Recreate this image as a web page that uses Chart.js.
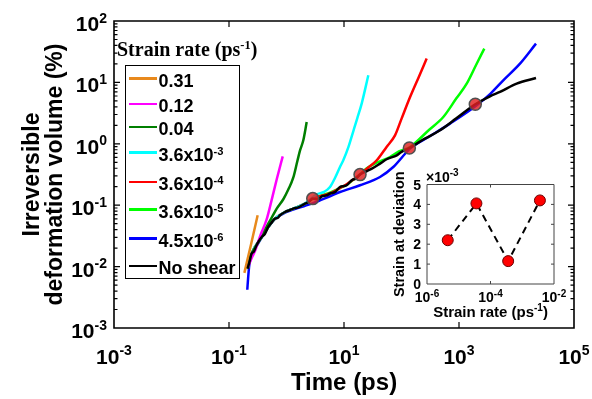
<!DOCTYPE html>
<html><head><meta charset="utf-8">
<script src="https://cdn.jsdelivr.net/npm/chart.js@4.4.1/dist/chart.umd.min.js"></script>
<style>
html,body{margin:0;padding:0;background:#fff;}
#wrap{position:relative;width:592px;height:399px;overflow:hidden;background:#fff;}
#main{position:absolute;left:0;top:0;}
#inset{position:absolute;left:385px;top:166px;}
#legTitle{position:absolute;left:117px;top:39px;font:bold 20px 'Liberation Serif','Times New Roman',serif;line-height:20px;white-space:nowrap;color:#000;}
#legBox{position:absolute;left:125px;top:65px;width:113px;height:212px;border:1.5px solid #000;background:#fff;}
.item{position:absolute;left:0;height:24px;display:flex;align-items:center;}
.swatch{width:28px;height:2.5px;margin-left:3px;margin-right:1.5px;}
.lbl{font:bold 18px 'Liberation Sans',Arial,sans-serif;line-height:18px;position:relative;top:2px;white-space:nowrap;color:#000;}
sup{font-size:0.62em;line-height:0;vertical-align:0.55em;}
</style></head>
<body>
<div id="wrap">
  <canvas id="main" width="592" height="399"></canvas>
  <canvas id="inset" width="185" height="164"></canvas>
  <div id="legTitle">Strain rate (ps<sup>-1</sup>)</div>
  <div id="legBox"></div>
</div>
<script>
// ---------------- data ----------------
const rateLabels = ['0.31', '0.12', '0.04', '3.6x10^-3', '3.6x10^-4', '3.6x10^-5', '4.5x10^-6', 'No shear'];
const lineColors = ['#e8891c', '#ff00ff', '#007f00', '#00ffff', '#ff0000', '#00ff00', '#0000ff', '#000000'];

const timeR031 = [0.185, 0.242, 0.315];
const volR031  = [0.0079, 0.0231, 0.0685];

const timeR012 = [0.211, 0.25, 0.29, 0.35, 0.45, 0.55, 0.68, 0.86];
const volR012  = [0.0095, 0.014, 0.019, 0.032, 0.058, 0.12, 0.27, 0.625];

const timeR004 = [0.211, 0.248, 0.30, 0.371, 0.482, 0.58, 0.676, 0.88, 1.074, 1.31, 1.55, 1.72, 1.96, 2.245];
const volR004  = [0.0093, 0.0163, 0.022, 0.032, 0.0501, 0.068, 0.0881, 0.125, 0.18, 0.28, 0.53, 0.78, 1.14, 2.26];

const timeR36e3 = [0.211, 0.248, 0.371, 0.482, 0.631, 0.942, 1.31, 2.10, 2.6, 3.35, 4.5, 5.71, 7.0, 8.51, 9.72, 12, 14.5, 17, 20.3, 26.5];
const volR36e3  = [0.0093, 0.0163, 0.0303, 0.0442, 0.0605, 0.0775, 0.0881, 0.106, 0.125, 0.150, 0.165, 0.198, 0.28, 0.419, 0.539, 0.9, 1.6, 2.6, 4.52, 13.1];

const timeR36e4 = [0.211, 0.248, 0.371, 0.482, 0.631, 0.942, 1.31, 2.10, 2.86, 5.71, 8.51, 11.1, 19.0, 25, 37.1, 55, 77.1, 100, 141, 200, 274];
const volR36e4  = [0.0093, 0.0163, 0.0303, 0.0442, 0.0605, 0.0775, 0.0881, 0.106, 0.128, 0.155, 0.19, 0.22, 0.315, 0.393, 0.539, 0.89, 1.37, 2.55, 5.78, 12.3, 24.4];

const timeR36e5 = [0.211, 0.248, 0.371, 0.482, 0.631, 0.942, 1.31, 2.10, 2.86, 5.71, 8.51, 11.1, 19.0, 24.8, 35, 63.1, 90, 141, 300, 533, 900, 1361, 2000, 2754];
const volR36e5  = [0.0093, 0.0163, 0.0303, 0.0442, 0.0605, 0.0775, 0.0881, 0.106, 0.128, 0.16, 0.19, 0.215, 0.32, 0.40, 0.48, 0.609, 0.75, 0.887, 1.68, 2.73, 5.5, 9.55, 19.6, 35.5];

const timeR45e6 = [0.208, 0.215, 0.225, 0.248, 0.30, 0.371, 0.482, 0.631, 0.771, 0.942, 1.31, 2.10, 2.92, 4.0, 5.71, 8.51, 19.0, 42.3, 71.9, 141, 300, 697, 2032, 3500, 5890, 11500, 21830];
const volR45e6  = [0.0042, 0.0065, 0.0105, 0.0160, 0.0215, 0.030, 0.044, 0.060, 0.068, 0.076, 0.085, 0.098, 0.108, 0.122, 0.140, 0.164, 0.211, 0.288, 0.419, 0.836, 1.3, 2.13, 4.24, 6.5, 10.8, 20.2, 42.8];

const timeNoShear = [0.211, 0.225, 0.248, 0.27, 0.30, 0.33, 0.371, 0.42, 0.482, 0.55, 0.631, 0.70, 0.771, 0.942, 1.1, 1.31, 1.6, 2.10, 2.4, 2.86, 3.5, 4.2, 5.0, 5.71, 7, 8.51, 10, 11.1, 14, 16, 19.0, 25, 30, 42.3, 55, 82.6, 100, 137, 250, 468, 900, 1920, 3460, 5164, 10070, 21830];
const volNoShear  = [0.0093, 0.0115, 0.0163, 0.0175, 0.022, 0.026, 0.0303, 0.034, 0.0442, 0.052, 0.0605, 0.062, 0.0685, 0.0775, 0.082, 0.0881, 0.092, 0.106, 0.112, 0.128, 0.125, 0.14, 0.145, 0.155, 0.165, 0.198, 0.205, 0.211, 0.26, 0.27, 0.315, 0.36, 0.39, 0.476, 0.56, 0.650, 0.74, 0.855, 1.2, 1.66, 2.6, 4.40, 5.94, 6.98, 9.55, 11.8];

const deviationTime = [2.86, 19.0, 137, 1920];
const deviationVol  = [0.128, 0.315, 0.855, 4.40];

const xTickVals = [1e-3, 1e-1, 1e1, 1e3, 1e5];
const yTickVals = [1e-3, 1e-2, 1e-1, 1e0, 1e1, 1e2];

// inset
const insetRates  = [4.5e-6, 3.6e-5, 3.6e-4, 3.6e-3];
const insetStrain = [2.2, 4.05, 1.15, 4.2];   // x 10^-3
const insetXTicks = [1e-6, 1e-4, 1e-2];
const insetYTicks = [0, 1, 2, 3, 4, 5];

// ---------------- helpers ----------------
const SUP = {'-':'\u207B','0':'\u2070','1':'\u00B9','2':'\u00B2','3':'\u00B3','4':'\u2074','5':'\u2075','6':'\u2076','7':'\u2077','8':'\u2078','9':'\u2079'};
function supStr(s){ return String(s).split('').map(c => SUP[c] || c).join(''); }
function expOf(v){ return Math.round(Math.log10(v)); }
function pow10Label(v){ return '10' + supStr(expOf(v)); }
function uniLabel(s){ return s.replace(/\^(-?\d+)/g, (m, e) => supStr(e)); }
function htmlLabel(s){ return s.replace(/\^(-?\d+)/g, '<sup>$1</sup>'); }
function pts(xs, ys){ return xs.map((x, i) => ({x: x, y: ys[i]})); }

const FONT = "'Liberation Sans', Arial, Helvetica, sans-serif";
const CLEAR = 'rgba(0,0,0,0)';
Chart.defaults.font.family = FONT;
Chart.defaults.color = '#000';

// draw text made of parts [{t, size, raise, weight}] (for superscripts)
function drawRich(ctx, parts, x, baseline, align){
  let w = 0;
  const ws = parts.map(p => {
    ctx.font = (p.weight || 'bold') + ' ' + p.size + 'px ' + FONT;
    const m = ctx.measureText(p.t).width; w += m; return m;
  });
  let cx = align === 'center' ? x - w / 2 : (align === 'right' ? x - w : x);
  ctx.textAlign = 'left'; ctx.textBaseline = 'alphabetic';
  parts.forEach((p, i) => {
    ctx.font = (p.weight || 'bold') + ' ' + p.size + 'px ' + FONT;
    ctx.fillText(p.t, cx, baseline - (p.raise || 0));
    cx += ws[i];
  });
}

function makeFrame(id){
  return {
    id: id,
    afterDatasetsDraw(chart, args, o){
      const {ctx, chartArea: a, scales} = chart;
      ctx.save();
      ctx.strokeStyle = o.color; ctx.lineWidth = o.lineWidth;
      ctx.beginPath();
      ctx.rect(a.left, a.top, a.right - a.left, a.bottom - a.top);
      ctx.stroke();
      ctx.lineWidth = o.tickWidth;
      ctx.beginPath();
      for (const v of o.xMajor){
        const p = scales.x.getPixelForValue(v);
        if (p <= a.left + 1 || p >= a.right - 1) continue;
        ctx.moveTo(p, a.bottom); ctx.lineTo(p, a.bottom - o.majorLen);
        ctx.moveTo(p, a.top); ctx.lineTo(p, a.top + o.majorLen);
      }
      for (const v of o.yMajor){
        const p = scales.y.getPixelForValue(v);
        if (p <= a.top + 1 || p >= a.bottom - 1) continue;
        ctx.moveTo(a.left, p); ctx.lineTo(a.left + o.majorLen, p);
        ctx.moveTo(a.right, p); ctx.lineTo(a.right - o.majorLen, p);
      }
      for (const v of o.yMinor){
        const p = scales.y.getPixelForValue(v);
        ctx.moveTo(a.left, p); ctx.lineTo(a.left + o.minorLen, p);
        ctx.moveTo(a.right, p); ctx.lineTo(a.right - o.minorLen, p);
      }
      ctx.stroke();
      ctx.restore();
    }
  };
}

const yMinorVals = [];
for (let k = -3; k < 2; k++) for (let m = 2; m <= 9; m++) yMinorVals.push(m * Math.pow(10, k));

// tick labels with real superscripts, drawn at the positions of the chart's own ticks
const mainLabels = {
  id: 'mainLabels',
  afterDraw(chart){
    const {ctx, chartArea: a, scales} = chart;
    ctx.save(); ctx.fillStyle = '#000';
    scales.x.ticks.forEach(t => drawRich(ctx,
      [{t: '10', size: 21}, {t: String(expOf(t.value)), size: 14, raise: 8.5}],
      scales.x.getPixelForValue(t.value), a.bottom + 35.5, 'center'));
    scales.y.ticks.forEach(t => drawRich(ctx,
      [{t: '10', size: 21}, {t: String(expOf(t.value)), size: 14, raise: 8.5}],
      a.left - 7, scales.y.getPixelForValue(t.value) + 10, 'right'));
    ctx.restore();
  }
};

const insetLabels = {
  id: 'insetLabels',
  afterDraw(chart){
    const {ctx, chartArea: a, scales} = chart;
    ctx.save(); ctx.fillStyle = '#000';
    scales.x.ticks.forEach(t => drawRich(ctx,
      [{t: '10', size: 14}, {t: String(expOf(t.value)), size: 10, raise: 5.5}],
      scales.x.getPixelForValue(t.value), a.bottom + 18, 'center'));
    scales.y.ticks.forEach(t => drawRich(ctx,
      [{t: String(t.value), size: 14}],
      a.left - 6, scales.y.getPixelForValue(t.value) + 5, 'right'));
    drawRich(ctx, [{t: 'Strain rate (ps', size: 15}, {t: '-1', size: 10, raise: 6}, {t: ')', size: 15}],
      (a.left + a.right) / 2, a.bottom + 33, 'center');
    drawRich(ctx, [{t: '\u00D710', size: 14}, {t: '-3', size: 10, raise: 6}],
      a.left - 1, a.top - 2.5, 'left');
    ctx.restore();
  }
};

// ---------------- main chart ----------------
const seriesTimes = [timeR031, timeR012, timeR004, timeR36e3, timeR36e4, timeR36e5, timeR45e6, timeNoShear];
const seriesVols  = [volR031, volR012, volR004, volR36e3, volR36e4, volR36e5, volR45e6, volNoShear];
const drawOrder   = [2, 2, 2, 2, 2, 2, 3, 1];

const datasets = [{
  label: 'Deviation point',
  data: pts(deviationTime, deviationVol),
  showLine: false,
  pointRadius: 6,
  pointBackgroundColor: 'rgba(226,32,32,0.82)',
  pointBorderColor: '#505050',
  pointBorderWidth: 1.5,
  order: 0
}];
rateLabels.forEach((lab, i) => {
  datasets.push({
    label: uniLabel(lab),
    data: pts(seriesTimes[i], seriesVols[i]),
    showLine: true,
    borderColor: lineColors[i],
    backgroundColor: lineColors[i],
    borderWidth: 2.5,
    pointRadius: 0,
    cubicInterpolationMode: 'monotone',
    order: drawOrder[i]
  });
});

const mainChart = new Chart(document.getElementById('main'), {
  type: 'scatter',
  data: { datasets: datasets },
  options: {
    responsive: false,
    animation: false,
    layout: { padding: { left: 0, top: 21, right: 18, bottom: 0 } },
    plugins: {
      legend: { display: false },
      tooltip: { enabled: false },
      mainFrame: { color: '#000', lineWidth: 1.6, tickWidth: 1.2, majorLen: 6, minorLen: 3.5,
                   xMajor: xTickVals, yMajor: yTickVals, yMinor: yMinorVals }
    },
    scales: {
      x: {
        type: 'logarithmic', position: 'bottom', min: 1e-3, max: 1e5,
        afterBuildTicks: s => { s.ticks = xTickVals.map(v => ({ value: v })); },
        afterFit: s => { s.height = 71; },
        grid: { display: false, drawTicks: false },
        border: { display: false },
        ticks: { callback: v => pow10Label(v), autoSkip: false, maxRotation: 0, minRotation: 0, padding: 0,
                 color: CLEAR, font: { size: 21, weight: 'bold', lineHeight: 1.2 } },
        title: { display: true, text: 'Time (ps)', color: '#000',
                 font: { size: 24, weight: 'bold', lineHeight: 1 }, padding: { top: 0, bottom: 3.5 } }
      },
      y: {
        type: 'logarithmic', position: 'left', min: 1e-3, max: 1e2,
        afterBuildTicks: s => { s.ticks = yTickVals.map(v => ({ value: v })); },
        afterFit: s => { s.width = 114; },
        grid: { display: false, drawTicks: false },
        border: { display: false },
        ticks: { callback: v => pow10Label(v), autoSkip: false, padding: 0,
                 color: CLEAR, font: { size: 21, weight: 'bold', lineHeight: 1.2 } },
        title: { display: true, text: ['Irreversible', 'deformation volume (%)'], color: '#000',
                 font: { size: 23, weight: 'bold', lineHeight: 1 }, padding: { top: 21.5, bottom: 0 } }
      }
    }
  },
  plugins: [makeFrame('mainFrame'), mainLabels]
});

// ---------------- HTML legend built from the chart's datasets ----------------
(function buildLegend(){
  const box = document.getElementById('legBox');
  const centers = [79, 104.3, 127.7, 153, 182.3, 210, 239, 266.7];
  const boxTop = 66.5;
  const items = mainChart.data.datasets.slice(1);
  items.forEach((ds, i) => {
    const it = document.createElement('div');
    it.className = 'item';
    it.style.top = (centers[i] - boxTop - 12) + 'px';
    const sw = document.createElement('div');
    sw.className = 'swatch';
    sw.style.background = ds.borderColor;
    const tx = document.createElement('span');
    tx.className = 'lbl';
    tx.innerHTML = htmlLabel(rateLabels[i]);
    it.appendChild(sw); it.appendChild(tx);
    box.appendChild(it);
  });
})();

// ---------------- inset chart ----------------
new Chart(document.getElementById('inset'), {
  type: 'scatter',
  data: { datasets: [{
    label: 'Strain at deviation',
    data: pts(insetRates, insetStrain),
    showLine: true,
    borderColor: '#000',
    borderWidth: 2,
    borderDash: [7, 5],
    pointRadius: 5.5,
    pointBackgroundColor: '#ff0000',
    pointBorderColor: '#6a0000',
    pointBorderWidth: 1
  }] },
  options: {
    responsive: false,
    animation: false,
    layout: { padding: { left: 0, top: 0, right: 16, bottom: 0 } },
    plugins: {
      legend: { display: false },
      tooltip: { enabled: false },
      title: { display: true, text: '\u00D710' + supStr(-3), align: 'start', fullSize: false, color: CLEAR,
               font: { size: 14, weight: 'bold', lineHeight: 1 }, padding: { top: 4.5, bottom: 0 } },
      insetFrame: { color: '#444', lineWidth: 1, tickWidth: 1, majorLen: 3, minorLen: 0,
                    xMajor: insetXTicks, yMajor: insetYTicks, yMinor: [] }
    },
    scales: {
      x: {
        type: 'logarithmic', position: 'bottom', min: 1e-6, max: 1e-2,
        afterBuildTicks: s => { s.ticks = insetXTicks.map(v => ({ value: v })); },
        afterFit: s => { s.height = 46; },
        grid: { display: false, drawTicks: false },
        border: { display: false },
        ticks: { callback: v => pow10Label(v), autoSkip: false, maxRotation: 0, minRotation: 0, padding: 0,
                 color: CLEAR, font: { size: 14, weight: 'bold', lineHeight: 1.2 } },
        title: { display: true, text: 'Strain rate (ps' + supStr(-1) + ')', color: CLEAR,
                 font: { size: 15, weight: 'bold', lineHeight: 1 }, padding: { top: 0, bottom: 10.5 } }
      },
      y: {
        type: 'linear', position: 'left', min: 0, max: 5,
        afterBuildTicks: s => { s.ticks = insetYTicks.map(v => ({ value: v })); },
        afterFit: s => { s.width = 42; },
        grid: { display: false, drawTicks: false },
        border: { display: false },
        ticks: { autoSkip: false, padding: 0, color: CLEAR, font: { size: 14, weight: 'bold', lineHeight: 1.2 } },
        title: { display: true, text: 'Strain at deviation', color: '#000',
                 font: { size: 14.5, weight: 'bold', lineHeight: 1 }, padding: { top: 7.75, bottom: 0 } }
      }
    }
  },
  plugins: [makeFrame('insetFrame'), insetLabels]
});
</script>
</body></html>
